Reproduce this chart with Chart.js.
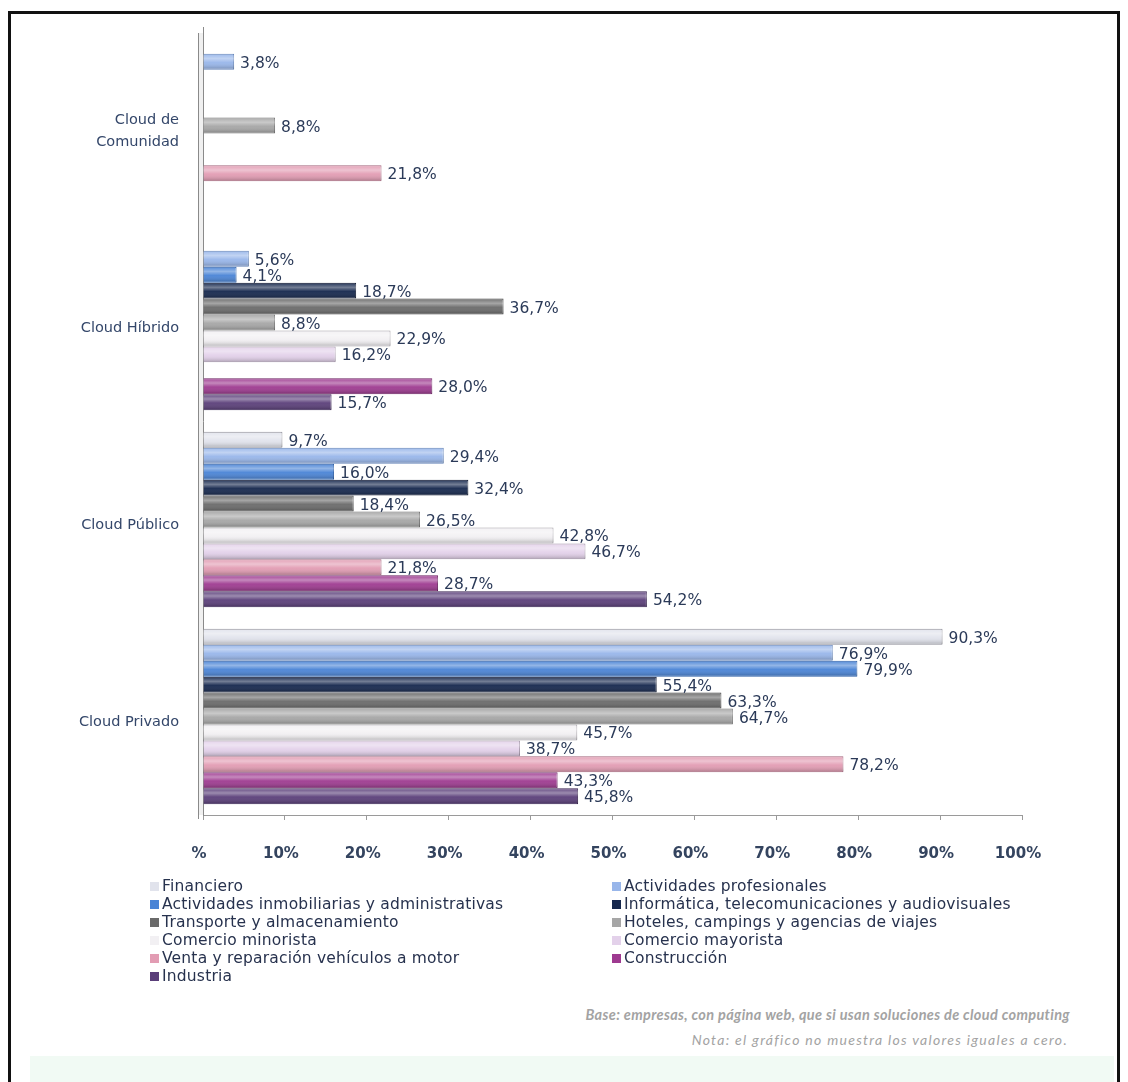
<!DOCTYPE html>
<html lang="es">
<head>
<meta charset="utf-8">
<title>Tipo de cloud por sector</title>
<script src="https://cdn.jsdelivr.net/npm/chart.js@4.4.1/dist/chart.umd.min.js"></script>
<style>
  html, body { margin: 0; padding: 0; background: #fff; }
  body { width: 1128px; height: 1082px; position: relative; overflow: hidden; font-family: "DejaVu Sans", sans-serif; }
  #frame { position: absolute; left: 8px; top: 11px; width: 1112px; height: 1100px; box-sizing: border-box; border: 3px solid #111; border-bottom: none; }
  #chartBox { position: absolute; left: 0; top: 0; width: 1128px; height: 880px; }
  #legend { position: absolute; left: 150px; top: 877px; display: grid; grid-template-columns: 462px 462px; row-gap: 0; }
  .item { display: flex; align-items: center; height: 18px; font-size: 15.5px; color: #27324e; letter-spacing: 0.2px; white-space: nowrap; }
  .box { width: 9px; height: 9px; margin-right: 3px; flex: none; box-sizing: border-box; }
  #base { position: absolute; right: 58px; top: 1006px; font-family: Lato, sans-serif; font-size: 14.5px; font-style: italic; font-weight: bold; color: #a3a3a3; letter-spacing: 0.35px; }
  #nota { position: absolute; right: 60px; top: 1031px; font-family: Lato, sans-serif; font-size: 14px; font-style: italic; color: #a3a3a3; letter-spacing: 1.3px; }
  #strip { position: absolute; left: 30px; right: 14px; top: 1056px; height: 40px; background: #f1faf4; }
</style>
</head>
<body>
<div id="frame"></div>
<div id="chartBox"><canvas id="chart" width="1128" height="880"></canvas></div>
<div id="legend"></div>
<div id="base">Base: empresas, con página web, que si usan soluciones de cloud computing</div>
<div id="nota">Nota: el gráfico no muestra los valores iguales a cero.</div>
<div id="strip"></div>

<script>
// ---- datos ----
const categorias = [["Cloud de", "Comunidad"], "Cloud Híbrido", "Cloud Público", "Cloud Privado"];

const sectores = [
    "Financiero",
    "Actividades profesionales",
    "Actividades inmobiliarias y administrativas",
    "Informática, telecomunicaciones y audiovisuales",
    "Transporte y almacenamiento",
    "Hoteles, campings y agencias de viajes",
    "Comercio minorista",
    "Comercio mayorista",
    "Venta y reparación vehículos a motor",
    "Construcción",
    "Industria"
];

// un array por sector: [Comunidad, Híbrido, Público, Privado]
const financiero      = [0,    0,    9.7,  90.3];
const actProfesional  = [3.8,  5.6,  29.4, 76.9];
const actInmobiliaria = [0,    4.1,  16.0, 79.9];
const informatica     = [0,    18.7, 32.4, 55.4];
const transporte      = [0,    36.7, 18.4, 63.3];
const hoteles         = [8.8,  8.8,  26.5, 64.7];
const minorista       = [0,    22.9, 42.8, 45.7];
const mayorista       = [0,    16.2, 46.7, 38.7];
const ventaVehiculos  = [21.8, 0,    21.8, 78.2];
const construccion    = [0,    28.0, 28.7, 43.3];
const industria       = [0,    15.7, 54.2, 45.8];

const valores = [financiero, actProfesional, actInmobiliaria, informatica, transporte,
    hoteles, minorista, mayorista, ventaVehiculos, construccion, industria];

const colores = ["#e1e3ec", "#98b6ea", "#4a84d6", "#15274d", "#6a6a6a", "#a6a6a6",
    "#f2f0f3", "#e3d1ea", "#e29cb3", "#9e3a90", "#5a3e79"];
const bordes = ["#8e8e98", "#6484b8", "#2c5ea6", "#08122b", "#404040", "#727272",
    "#a29ea5", "#9f8fa6", "#a4667c", "#6a2060", "#372350"];

const ticksX = [0, 10, 20, 30, 40, 50, 60, 70, 80, 90, 100];

const fmt = v => v.toFixed(1).replace(".", ",") + "%";

// ---- leyenda ----
const legend = document.getElementById("legend");
sectores.forEach((s, i) => {
    const d = document.createElement("div");
    d.className = "item";
    d.innerHTML = `<span class="box" style="background:${colores[i]}"></span>${s}`;
    legend.appendChild(d);
});

// ---- plugins ----
// sombreado tipo cilindro sobre cada barra
const shadePlugin = {
    id: "shade",
    afterDatasetsDraw(chart) {
        const ctx = chart.ctx;
        chart.data.datasets.forEach((ds, di) => {
            chart.getDatasetMeta(di).data.forEach((bar, i) => {
                if (!ds.data[i]) return;
                const top = bar.y - bar.height / 2;
                const g = ctx.createLinearGradient(0, top, 0, top + bar.height);
                g.addColorStop(0, "rgba(255,255,255,0.05)");
                g.addColorStop(0.3, "rgba(255,255,255,0.40)");
                g.addColorStop(0.55, "rgba(255,255,255,0.05)");
                g.addColorStop(1, "rgba(0,0,0,0.25)");
                ctx.save();
                ctx.fillStyle = g;
                ctx.fillRect(bar.base, top + 1, bar.x - bar.base, bar.height - 2);
                ctx.restore();
            });
        });
    }
};

// etiquetas con el valor al final de cada barra
const valueLabels = {
    id: "valueLabels",
    afterDatasetsDraw(chart) {
        const ctx = chart.ctx;
        ctx.save();
        ctx.font = "15.5px 'DejaVu Sans', sans-serif";
        ctx.fillStyle = "#2b3a58";
        ctx.textBaseline = "middle";
        chart.data.datasets.forEach((ds, di) => {
            chart.getDatasetMeta(di).data.forEach((bar, i) => {
                const v = ds.data[i];
                if (!v) return;
                ctx.fillText(fmt(v), bar.x + 6, bar.y + 2);
            });
        });
        ctx.restore();
    }
};

// pared lateral del eje
const wallPlugin = {
    id: "wall",
    beforeDatasetsDraw(chart) {
        const { ctx, chartArea: a } = chart;
        ctx.save();
        ctx.fillStyle = "#f0f0f0";
        ctx.fillRect(a.left - 5, a.top + 6, 5, a.bottom - a.top - 6);
        ctx.strokeStyle = "#8a8a8a";
        ctx.lineWidth = 1;
        ctx.beginPath();
        ctx.moveTo(a.left - 4.5, a.top + 6);
        ctx.lineTo(a.left - 4.5, a.bottom + 4);
        ctx.stroke();
        ctx.restore();
    }
};

// ---- gráfico ----
new Chart(document.getElementById("chart"), {
    type: "bar",
    data: {
        labels: categorias,
        datasets: sectores.map((s, i) => ({
            label: s,
            data: valores[i],
            backgroundColor: colores[i],
            borderColor: bordes[i],
            borderWidth: 1,
            borderSkipped: "start"
        }))
    },
    options: {
        indexAxis: "y",
        responsive: false,
        animation: false,
        devicePixelRatio: 1,
        layout: { padding: { top: 27, right: 106, left: 0, bottom: 0 } },
        datasets: { bar: { barPercentage: 1.0, categoryPercentage: 0.89 } },
        plugins: { legend: { display: false }, tooltip: { enabled: false } },
        scales: {
            x: {
                min: 0,
                max: 100,
                afterBuildTicks: s => { s.ticks = ticksX.map(v => ({ value: v })); },
                afterFit: s => { s.height = 65; },
                grid: { drawOnChartArea: false, drawTicks: true, tickLength: 5, color: "#9a9a9a" },
                border: { color: "#9a9a9a" },
                ticks: {
                    padding: 25,
                    labelOffset: -4,
                    color: "#34445f",
                    font: { family: "'DejaVu Sans', sans-serif", size: 15, weight: "bold" },
                    callback: v => v === 0 ? "%" : v + "%"
                }
            },
            y: {
                afterFit: s => { s.width = 203; },
                grid: { display: false },
                border: { color: "#8a8a8a" },
                ticks: {
                    padding: 16,
                    labelOffset: 6,
                    color: "#34476a",
                    font: { family: "'DejaVu Sans', sans-serif", size: 14.5, lineHeight: 1.5 }
                }
            }
        }
    },
    plugins: [wallPlugin, shadePlugin, valueLabels]
});
</script>
</body>
</html>
